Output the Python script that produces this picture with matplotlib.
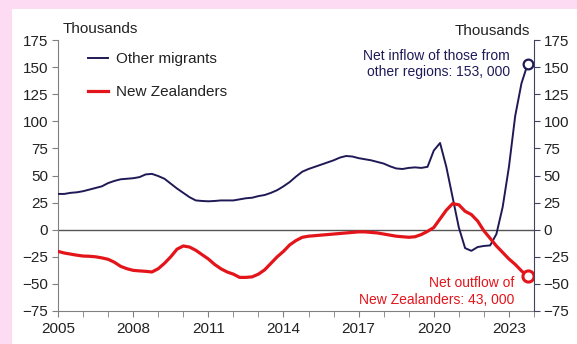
import numpy as np
import matplotlib.pyplot as plt
from matplotlib.patches import Rectangle

plt.rcParams['font.family'] = ['Liberation Sans', 'DejaVu Sans']
plt.rcParams['text.color'] = '#222222'
plt.rcParams['xtick.labelcolor'] = '#222222'
plt.rcParams['ytick.labelcolor'] = '#222222'

# Quarterly observations, 2005 Q1 to 2023 Q4 (thousands, annual net migration)
years = np.arange(2005, 2023.76, 0.25)

other_migrants = [
    33, 33, 34, 34.5,
    35.5, 37, 38.5, 40,
    43, 45, 46.5, 47,
    47.5, 48.5, 51, 51.5,
    49.5, 47, 42.5, 38,
    34, 30, 27, 26.5,
    26.2, 26.5, 27, 27,
    27, 28, 29, 29.5,
    31, 32, 34, 36.5,
    40, 44, 49, 53.5,
    56, 58, 60, 62,
    64, 66.5, 68, 67.5,
    66, 65, 64, 62.5,
    61, 58.5, 56.5, 56,
    57, 57.5, 57, 58,
    73, 80, 58, 30,
    2, -17, -19.5, -16,
    -15, -14.5, -4, 21,
    58, 105, 135, 153,
]

new_zealanders = [
    -20, -21.5, -22.5, -23.5,
    -24.3, -24.5, -25, -26,
    -27.3, -30, -33.8, -36,
    -37.5, -38, -38.4, -39,
    -36, -31, -25, -18,
    -15, -16, -19, -23,
    -27, -32, -36, -39,
    -41, -44, -44, -43.5,
    -41, -37, -31, -25,
    -20, -14, -10, -7,
    -6, -5.5, -5, -4.5,
    -4, -3.5, -3, -2.5,
    -2, -2, -2.5, -3,
    -4, -5, -6, -6.5,
    -7, -6.5, -4.5, -1.5,
    2, 10, 18, 24,
    23, 17, 14, 8,
    -1, -8, -15, -21,
    -27, -32, -38, -43,
]

navy = '#1f1a56'
red = '#e3151b'

fig = plt.figure(figsize=(5.77, 3.44), dpi=100, facecolor='#fddcf3')
fig.patches.append(Rectangle((12 / 577, 0), 1, (344 - 9) / 344, transform=fig.transFigure,
                             facecolor='white', edgecolor='none', zorder=-10))

ax = fig.add_axes([58 / 577, 1 - 311 / 344, (534 - 58) / 577, (311 - 40) / 344])
ax.set_facecolor('none')

ax.plot(years, other_migrants, color=navy, lw=1.4, label='Other migrants', zorder=3)
ax.plot(years, new_zealanders, color=red, lw=2.3, label='New Zealanders', zorder=3)
ax.plot(years[-1], other_migrants[-1], 'o', ms=7, mfc='white', mec=navy, mew=1.6, zorder=4)
ax.plot(years[-1], new_zealanders[-1], 'o', ms=8, mfc='white', mec=red, mew=2.2, zorder=4)
ax.axhline(0, color='#555555', lw=1, zorder=2)

ax.set_xlim(2005, 2024)
ax.set_ylim(-75, 175)
ax.set_yticks(range(-75, 176, 25))
ax.set_xticks(range(2005, 2025, 3))
ax.set_xticks(range(2005, 2025), minor=True)
ax.tick_params(axis='x', which='both', length=4, color='#808080', labelsize=11, pad=4)
ax.tick_params(axis='y', length=4, color='#808080', labelsize=11, pad=3)

for s in ['top', 'right']:
    ax.spines[s].set_visible(False)
ax.spines['left'].set_color('#808080')
ax.spines['bottom'].set_color('#808080')

ax2 = ax.twinx()
ax2.set_ylim(ax.get_ylim())
ax2.set_yticks(range(-75, 176, 25))
ax2.tick_params(axis='y', length=4, color='#404060', labelsize=11, pad=3)
for s in ['top', 'left', 'bottom']:
    ax2.spines[s].set_visible(False)
ax2.spines['right'].set_color('#404060')

fig.text(63 / 577, 1 - 29 / 344, 'Thousands', fontsize=11, va='center', ha='left')
fig.text(530 / 577, 1 - 31 / 344, 'Thousands', fontsize=11, va='center', ha='right')

ax.legend(loc='upper left', bbox_to_anchor=(0.035, 1.005), frameon=False, fontsize=11,
          handlelength=1.3, handletextpad=0.5, labelspacing=1.25)

ax.text(2023.05, 153, 'Net inflow of those from\nother regions: 153, 000', color=navy,
        fontsize=10, ha='right', va='center', linespacing=1.2)
ax.text(2023.2, -57, 'Net outflow of\nNew Zealanders: 43, 000', color=red,
        fontsize=10, ha='right', va='center', linespacing=1.2)

fig.savefig('out.png', dpi=100, facecolor=fig.get_facecolor())
